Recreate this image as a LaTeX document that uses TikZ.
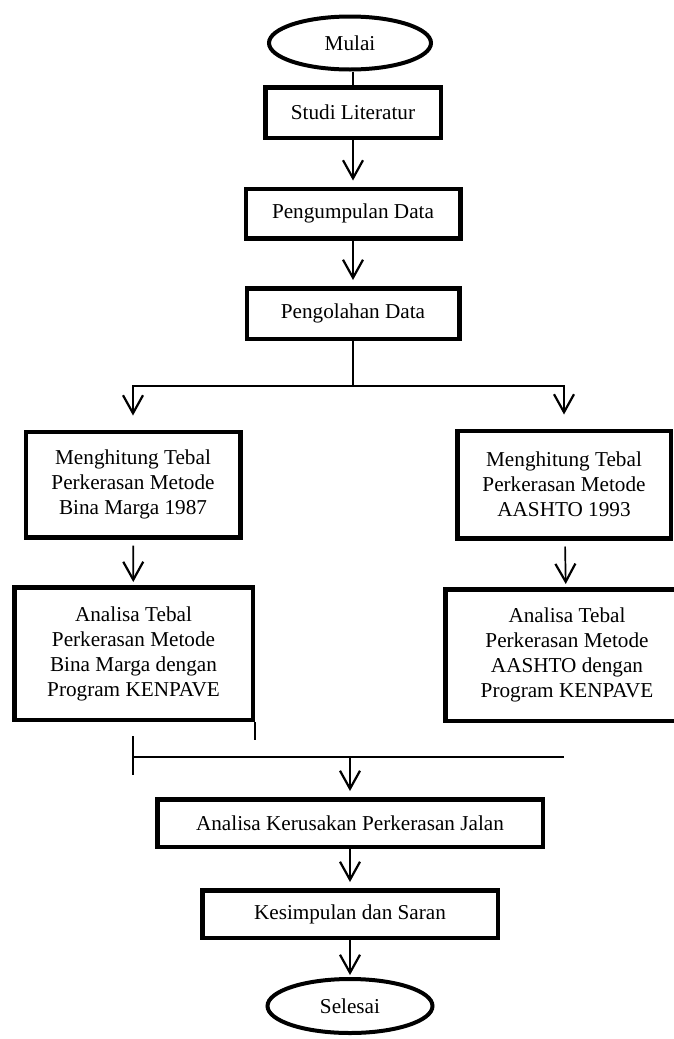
\documentclass[tikz,border=0pt]{standalone}
\usepackage{fontspec}
\setmainfont{Liberation Serif}
\usepackage{tikz}
\usetikzlibrary{shapes, arrows.meta}
\tikzstyle{block} = [rectangle, draw, line width=2.25pt, align=center, inner sep=2pt, font=\fontsize{10.6}{12.5}\selectfont]
\tikzstyle{terminal} = [ellipse, draw, line width=2pt, inner sep=1pt, font=\fontsize{10.6}{12.5}\selectfont]
\tikzstyle{line} = [draw, line width=0.85pt, -{Straight Barb[length=9pt, width=10pt, line width=1.1pt]}, shorten >=3pt]
\tikzstyle{plain} = [draw, line width=0.85pt]

\begin{document}
\begin{tikzpicture}[node distance = 50pt, auto]
	\useasboundingbox (0,0) rectangle (337pt,-519.5pt);

	% Place nodes
	\node [terminal, minimum width=81pt, minimum height=26.5pt] (Mulai) at (175pt,-21.5pt) {Mulai};
	\node [block, below of=Mulai, xshift=1.5pt, yshift=15.25pt, minimum width=87.75pt, minimum height=25.25pt] (Studi Literatur) {Studi Literatur};
	\node [block, below of=Studi Literatur, yshift=-0.5pt, minimum width=107.25pt, minimum height=24.75pt] (Pengumpulan Data) {Pengumpulan Data};
	\node [block, below of=Pengumpulan Data, minimum width=106.25pt, minimum height=25.25pt] (Pengolahan Data) {Pengolahan Data};
	\node [block, below of=Pengolahan Data, xshift=-110pt, yshift=-35.5pt, minimum width=107.25pt, minimum height=52.75pt] (Tebal BM) {Menghitung Tebal\\Perkerasan Metode\\Bina Marga 1987};
	\node [block, below of=Pengolahan Data, xshift=105.5pt, yshift=-35.5pt, minimum width=106.75pt, minimum height=53.75pt] (Tebal AASHTO) {Menghitung Tebal\\Perkerasan Metode\\AASHTO 1993};
	\node [block, below of=Tebal BM, xshift=0.25pt, yshift=-34.5pt, minimum width=119.25pt, minimum height=66.25pt] (KENPAVE BM) {Analisa Tebal\\Perkerasan Metode\\Bina Marga dengan\\Program KENPAVE};
	\node [block, below of=Tebal AASHTO, xshift=1.5pt, yshift=-35.25pt, minimum width=121.75pt, minimum height=65.75pt] (KENPAVE AASHTO) {Analisa Tebal\\Perkerasan Metode\\AASHTO dengan\\Program KENPAVE};
	\node [block, below of=KENPAVE BM, xshift=108.25pt, yshift=-34.75pt, minimum width=192.75pt, minimum height=23.75pt] (Analisa Kerusakan) {Analisa Kerusakan Perkerasan Jalan};
	\node [block, below of=Analisa Kerusakan, yshift=4.5pt, minimum width=147.75pt, minimum height=23.75pt] (Kesimpulan) {Kesimpulan dan Saran};
	\node [terminal, below of=Kesimpulan, yshift=4pt, minimum width=82.5pt, minimum height=27pt] (Selesai) {Selesai};

	% Junctions
	\coordinate (start) at (Studi Literatur.north |- Mulai.south);
	\coordinate (split) at ([yshift=-22.5pt]Pengolahan Data.south);
	\coordinate (merge) at ([yshift=20pt]Analisa Kerusakan.north);
	\coordinate (merge left) at (merge -| Tebal BM);
	\coordinate (merge right) at (merge -| Tebal AASHTO);
	\coordinate (tick top) at ([yshift=10.5pt]merge left);
	\coordinate (tick bottom) at ([yshift=-9pt]merge left);
	\coordinate (tail) at ([yshift=-9pt]KENPAVE BM.south east);

	%Draw edges
	\path [plain] (start) -- (Studi Literatur.north);
	\path [line] (Studi Literatur) -- (Pengumpulan Data);
	\path [line] (Pengumpulan Data) -- (Pengolahan Data);
	\path [plain] (Pengolahan Data.south) -- (split);
	\path [line, shorten >=7pt] (split) -| (Tebal BM);
	\path [line, shorten >=7pt] (split) -| (Tebal AASHTO);
	\path [line, shorten <=3pt, shorten >=1.5pt] (Tebal BM) -- (KENPAVE BM);
	\path [line, shorten <=3pt, shorten >=1.5pt] (Tebal AASHTO) -- (KENPAVE AASHTO);
	\path [plain] (KENPAVE BM.south east) -- (tail);
	\path [plain] (tick top) -- (tick bottom);
	\path [plain] (merge left) -- (merge right);
	\path [line] (merge) -- (Analisa Kerusakan);
	\path [line] (Analisa Kerusakan) -- (Kesimpulan);
	\path [line, shorten >=1pt] (Kesimpulan) -- (Selesai);

\end{tikzpicture}
\end{document}
